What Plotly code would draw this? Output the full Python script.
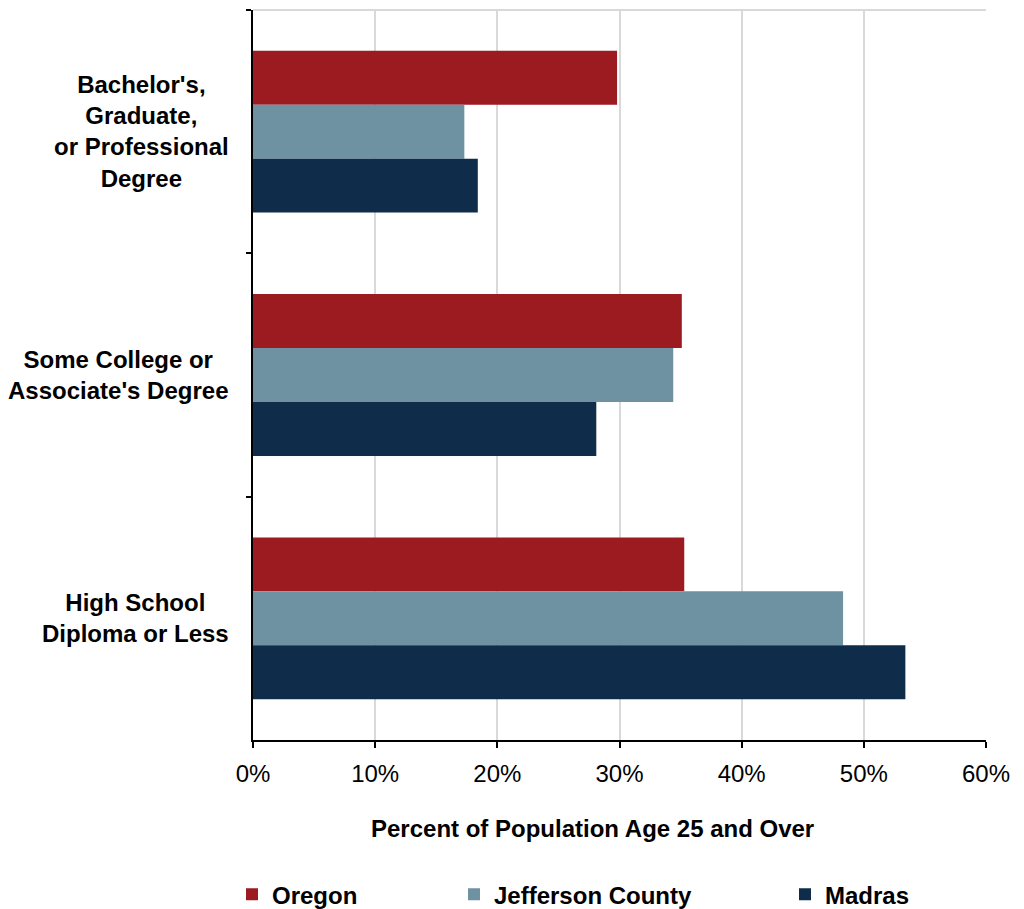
import plotly.graph_objects as go

categories = [
    "Bachelor's,<br>Graduate,<br>or Professional<br>Degree",
    "Some College or<br>Associate's Degree",
    "High School<br>Diploma or Less",
]
series_names = ["Oregon", "Jefferson County", "Madras"]
oregon = [0.298, 0.351, 0.353]
jefferson = [0.173, 0.344, 0.483]
madras = [0.184, 0.281, 0.534]
colors = ["#9B1B20", "#6E92A1", "#0F2D4A"]
x_ticks = [0, 0.1, 0.2, 0.3, 0.4, 0.5, 0.6]
x_tick_labels = ["0%", "10%", "20%", "30%", "40%", "50%", "60%"]
x_title = "Percent of Population Age 25 and Over"

FONT = "Liberation Sans, Arial, sans-serif"
W, H = 1024, 909
ML, MR, MT, MB = 253, 38, 10, 169
PW = W - ML - MR
PH = H - MT - MB

fig = go.Figure()
values = [oregon, jefferson, madras]
legend_ids = ["legend", "legend2", "legend3"]
for name, vals, col, lg in zip(series_names, values, colors, legend_ids):
    fig.add_trace(go.Bar(
        y=categories, x=vals, name="<b>" + name + "</b>", orientation="h",
        marker=dict(color=col, line=dict(width=0)),
        legend=lg,
    ))

def px_to_paper_x(px):
    return (px - ML) / PW

def px_to_paper_y(py):
    return (H - MB - py) / PH

legend_common = dict(
    orientation="h", yanchor="middle", xanchor="left", y=-0.212,
    font=dict(family=FONT, size=24, color="#000000"),
    bgcolor="rgba(0,0,0,0)", borderwidth=0,
    itemwidth=30,
)
fig.update_layout(
    legend=dict(x=px_to_paper_x(232), **legend_common),
    legend2=dict(x=px_to_paper_x(454), **legend_common),
    legend3=dict(x=px_to_paper_x(785), **legend_common),
)

# category labels (centered multi-line)
for cat in categories:
    fig.add_annotation(
        x=px_to_paper_x(231), xref="paper", y=cat, yref="y",
        text="<b>" + cat + "</b>", showarrow=False, xanchor="right", yanchor="middle",
        align="center", font=dict(family=FONT, size=24, color="#000000"),
    )

# x axis title
fig.add_annotation(
    x=px_to_paper_x(592), xref="paper", y=px_to_paper_y(828), yref="paper",
    text="<b>" + x_title + "</b>", showarrow=False, xanchor="center", yanchor="middle",
    font=dict(family=FONT, size=24, color="#000000"),
)

# top border (gray) of plot area
fig.add_shape(type="line", xref="paper", yref="paper", x0=0, x1=1, y0=1, y1=1,
              line=dict(color="#D9D9D9", width=2), layer="below")

fig.update_layout(
    width=W, height=H,
    margin=dict(l=ML, r=MR, t=MT, b=MB, autoexpand=False),
    paper_bgcolor="white", plot_bgcolor="white",
    barmode="group", bargap=0.335, bargroupgap=0,
    showlegend=True,
    font=dict(family=FONT, color="#000000"),
    xaxis=dict(
        range=[0, 0.6], tickvals=x_ticks, ticktext=x_tick_labels,
        showgrid=True, gridcolor="#D9D9D9", gridwidth=2,
        showline=True, linecolor="#000000", linewidth=2,
        ticks="outside", ticklen=6, tickwidth=2, tickcolor="#000000",
        tickfont=dict(family=FONT, size=24, color="#000000"),
        ticklabelstandoff=5,
        zeroline=False,
    ),
    yaxis=dict(
        type="category", categoryorder="array", categoryarray=categories,
        range=[2.5, -0.5],
        showgrid=False, showline=True, linecolor="#000000", linewidth=2,
        ticks="outside", tickson="boundaries", ticklen=5, tickwidth=2, tickcolor="#000000",
        showticklabels=False, zeroline=False,
    ),
)

fig.write_html("out.html")
